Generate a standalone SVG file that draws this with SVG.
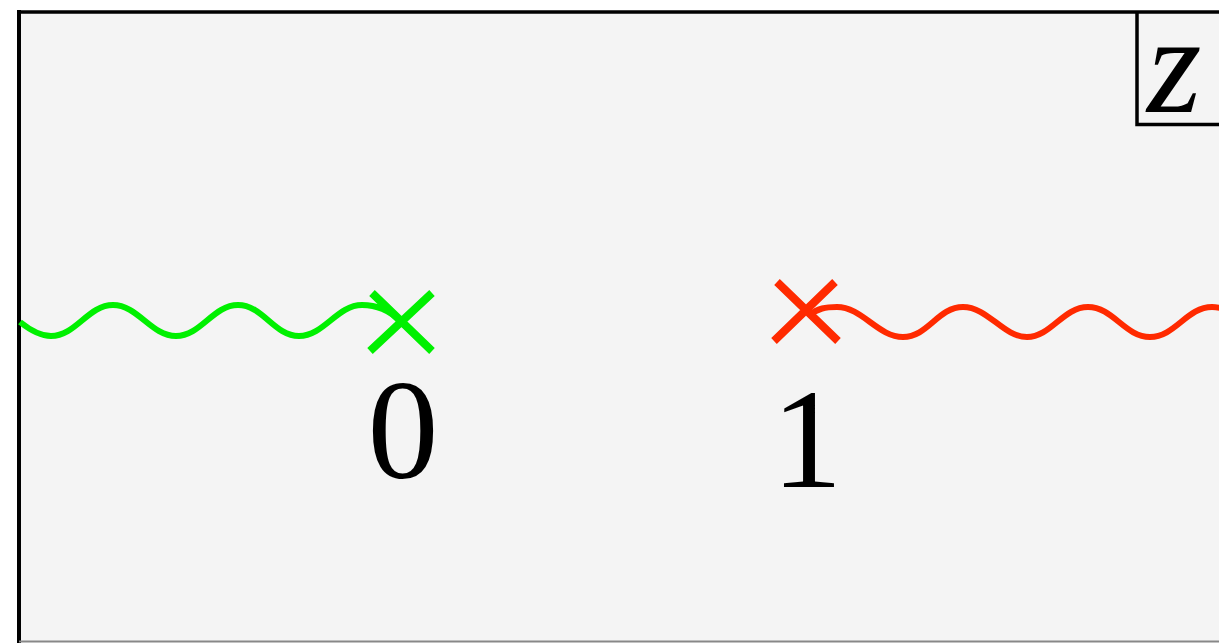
<svg xmlns="http://www.w3.org/2000/svg" width="1219" height="643" viewBox="0 0 1219 643">
<style>
.wave{fill:none;stroke-width:6;stroke-linecap:butt}
.cross{stroke-width:8;fill:none}
.num{font-family:"Liberation Serif",serif;font-size:142px;fill:#000;text-anchor:middle}
</style>
<rect width="1219" height="643" fill="#fff"/>
<g id="frame">
<rect x="19" y="12" width="1220" height="629" fill="#f4f4f4" stroke="none"/>
<line x1="19" y1="10" x2="19" y2="643" stroke="#000" stroke-width="4"/>
<line x1="17" y1="12" x2="1219" y2="12" stroke="#000" stroke-width="3.5"/>
<line x1="19" y1="641.5" x2="1219" y2="641.5" stroke="#888" stroke-width="2"/>
</g>
<g id="zlabel">
<path d="M1137,12 V124.5 H1219" fill="none" stroke="#000" stroke-width="3.5"/>
<text x="1147" y="112" font-family="Liberation Serif,serif" font-style="italic" font-size="140" fill="#000">z</text>
</g>
<g id="connectors">
<path class="wave" stroke="#00f000" d="M20,322 C30,330 40,336 51,336 C76,336 88,305 113,305 S151,336 176,336 S213,305 238,305 S274,336 299,336 S337,305 362,305 C380,305 392,313 400,321"/>
<path class="wave" stroke="#ff2a00" d="M808,316 C818,308 826,307 837,307 C862,307 878,337 903,337 S938,307 963,307 S1003,337 1027,337 S1063,307 1088,307 S1125,337 1150,337 S1187,307 1212,307 S1240,330 1260,337"/>
</g>
<g id="node0">
<path class="cross" stroke="#00f000" d="M372,293 L432,351 M432,293 L370,351"/>
<text class="num" x="403" y="478">0</text>
</g>
<g id="node1">
<path class="cross" stroke="#ff2a00" d="M777,282 L838,341 M835,282 L774,341"/>
<text class="num" x="807" y="487">1</text>
</g>
</svg>
